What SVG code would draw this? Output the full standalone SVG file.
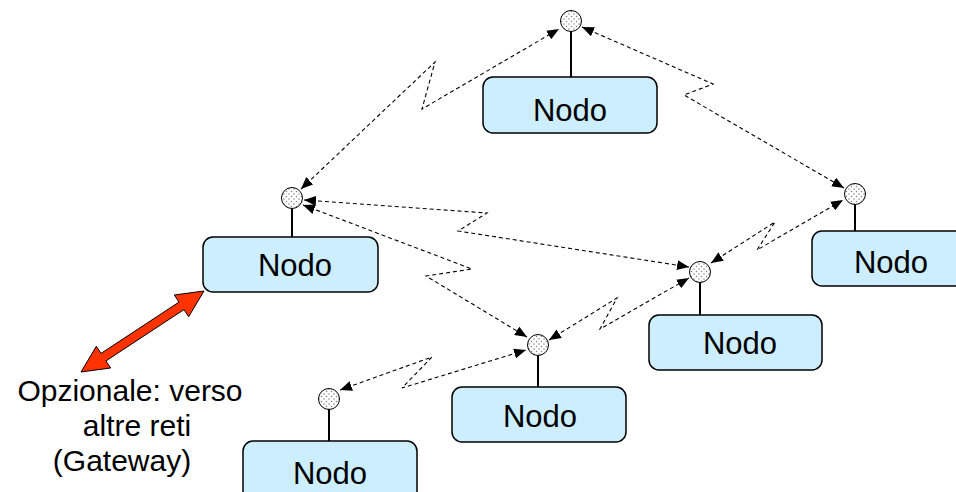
<svg xmlns="http://www.w3.org/2000/svg" width="956" height="492" viewBox="0 0 956 492">
<style>
.box{fill:#cceeff;stroke:#000;stroke-width:1.5}
.lbl{font-family:"Liberation Sans",Arial,sans-serif;font-size:31px;fill:#000;text-anchor:middle}
.note{font-family:"Liberation Sans",Arial,sans-serif;font-size:30px;fill:#000;text-anchor:middle}
.stem{stroke:#000;stroke-width:2;fill:none}
.ant{fill:url(#dots);stroke:#000;stroke-width:1}
.link{fill:none;stroke:#000;stroke-width:1.1;stroke-dasharray:4 3;marker-start:url(#ah);marker-end:url(#ah)}
</style>
<defs>
<pattern id="dots" width="5" height="5" patternUnits="userSpaceOnUse">
<rect width="5" height="5" fill="#fff"/>
<circle cx="1.5" cy="1.5" r="0.75" fill="#808080"/>
<circle cx="4" cy="4" r="0.75" fill="#808080"/>
</pattern>
<marker id="ah" viewBox="0 0 12 10" refX="12" refY="5" markerWidth="12" markerHeight="10" markerUnits="userSpaceOnUse" orient="auto-start-reverse">
<path d="M0,0 L12,5 L0,10 Z" fill="#000"/>
</marker>
</defs>
<g id="connectors">
<polyline class="link" points="301,189 435,62 422,109 559,29"/>
<polyline class="link" points="582,27 713,84 684,95 844,188"/>
<polyline class="link" points="304,200 487,213 458,231 689,267"/>
<polyline class="link" points="303,205 472,269 426,276 527,337"/>
<polyline class="link" points="549,340 617,298 600,329 689,278"/>
<polyline class="link" points="340,390 432,357 402,388 526,350"/>
<polyline class="link" points="711,263 775,222 757,250 843,200"/>
<polygon id="gateway-arrow" points="204,291 188.65,316.7 183.98,309.6 105.98,360.9 110.65,368 81,372 96.35,346.3 101.02,353.4 179.02,302.1 174.35,295" fill="#ff3300" stroke="#000" stroke-width="1"/>
</g>
<g id="node1">
<line class="stem" x1="571" y1="31" x2="571" y2="77"/>
<circle class="ant" cx="571" cy="21" r="10.5"/>
<rect class="box" x="483" y="77" width="174" height="56" rx="10"/>
<text class="lbl" x="570" y="121">Nodo</text>
</g>
<g id="node2">
<line class="stem" x1="292" y1="208" x2="292" y2="237"/>
<circle class="ant" cx="292" cy="198" r="10.5"/>
<rect class="box" x="203" y="237" width="175" height="55" rx="10"/>
<text class="lbl" x="295" y="276">Nodo</text>
</g>
<g id="node3">
<line class="stem" x1="855" y1="204" x2="855" y2="231"/>
<circle class="ant" cx="855" cy="194" r="10.5"/>
<rect class="box" x="812" y="231" width="175" height="55" rx="10"/>
<text class="lbl" x="891" y="273">Nodo</text>
</g>
<g id="node4">
<line class="stem" x1="700" y1="282" x2="700" y2="315"/>
<circle class="ant" cx="700" cy="272" r="10.5"/>
<rect class="box" x="649" y="315" width="173" height="55" rx="10"/>
<text class="lbl" x="740" y="354">Nodo</text>
</g>
<g id="node5">
<line class="stem" x1="538" y1="355" x2="538" y2="387"/>
<circle class="ant" cx="538" cy="345" r="10.5"/>
<rect class="box" x="452" y="387" width="174" height="55" rx="10"/>
<text class="lbl" x="540" y="427">Nodo</text>
</g>
<g id="node6">
<line class="stem" x1="329" y1="409" x2="329" y2="441"/>
<circle class="ant" cx="329" cy="399" r="10.5"/>
<rect class="box" x="243" y="441" width="174" height="70" rx="10"/>
<text class="lbl" x="330" y="484">Nodo</text>
</g>
<g id="gateway-label">
<text class="note" x="130" y="401">Opzionale: verso</text>
<text class="note" x="137" y="436">altre reti</text>
<text class="note" x="122" y="471">(Gateway)</text>
</g>
</svg>
